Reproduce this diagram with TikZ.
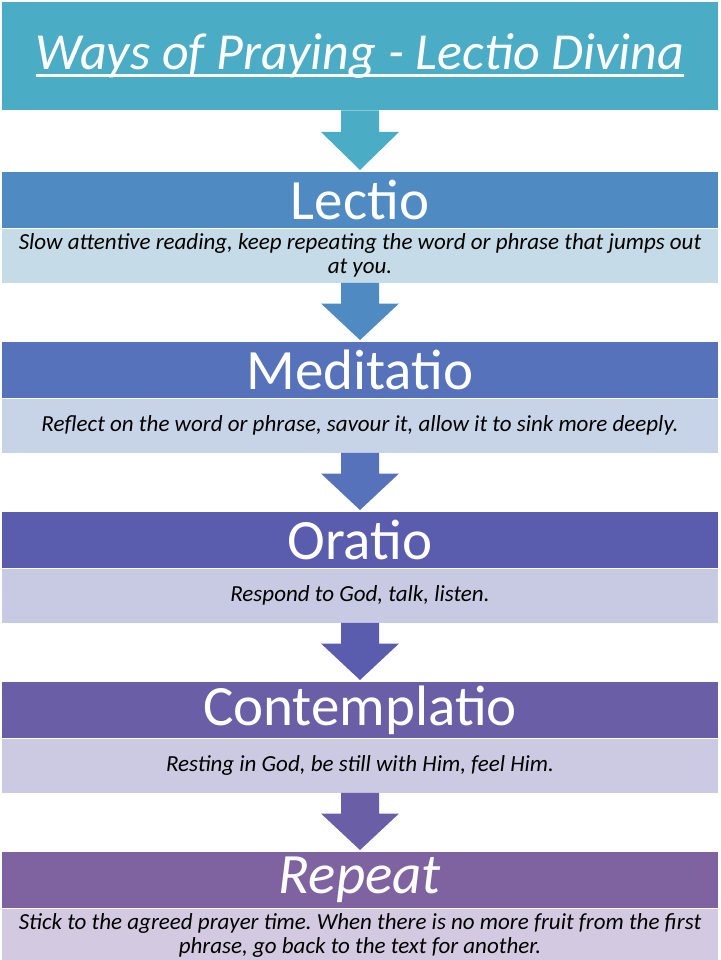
\documentclass[tikz,border=0pt]{standalone}
\usepackage{fontspec}
\setmainfont{Carlito}
\usetikzlibrary{calc,positioning}
\frenchspacing

\definecolor{hdtitle}{HTML}{4BACC6}
\definecolor{hdlectio}{HTML}{4F8BC2}
\definecolor{dslectio}{HTML}{C5DBE7}
\definecolor{hdmeditatio}{HTML}{5572BB}
\definecolor{dsmeditatio}{HTML}{C7D3E6}
\definecolor{hdoratio}{HTML}{5A5DAE}
\definecolor{dsoratio}{HTML}{C8CAE3}
\definecolor{hdcontemplatio}{HTML}{6A5FA7}
\definecolor{dscontemplatio}{HTML}{CCC9E2}
\definecolor{hdrepeat}{HTML}{7F63A1}
\definecolor{dsrepeat}{HTML}{D3CAE2}

\tikzset{
    band/.style={anchor=north, minimum width=716pt, inner sep=0pt, text=white},
    header/.style={band, minimum height=56pt, font=\fontsize{57}{58}\selectfont},
    detail/.style={band, minimum height=54pt, text=black, align=center,
        font=\itshape\fontsize{23}{23.5}\selectfont}
}

\begin{document}
\begin{tikzpicture}[x=1pt,y=-1pt]
        \useasboundingbox[fill=white] (0,0) rectangle (720,960);
        % title
            \node[band, fill=hdtitle, minimum height=108pt] (title) at (360,2) {};
            \node[inner sep=0pt, text=white, font=\itshape\fontsize{52}{56}\selectfont]
                (ttl) at (360,56) {Ways of Praying - Lectio Divina};
            \draw[white, line width=2.5pt] ([yshift=-6pt]ttl.base west) -- ([yshift=-6pt]ttl.base east);
        % steps
            \foreach \nm/\y/\hd/\ds in {
                lectio/172/Lectio/{Slow attentive reading, keep repeating the word or phrase that jumps out\\at you.},
                meditatio/342/Meditatio/{Reflect on the word or phrase, savour it, allow it to sink more deeply.},
                oratio/512/Oratio/{Respond to God, talk, listen.},
                contemplatio/682/Contemplatio/{Resting in God, be still with Him, feel Him.},
                repeat/852/\textit{Repeat}/{Stick to the agreed prayer time. When there is no more fruit from the first\\phrase, go back to the text for another.}}{
                \node[header, fill=hd\nm] (\nm) at (360,\y) {\hd};
                \node[detail, fill=ds\nm] (\nm-txt) at (\nm.south) {\ds};
            }
        % arrows
            \foreach \a/\b/\c in {title/lectio/hdtitle, lectio-txt/meditatio/hdlectio,
                meditatio-txt/oratio/hdmeditatio, oratio-txt/contemplatio/hdoratio,
                contemplatio-txt/repeat/hdcontemplatio}{
                \fill[\c] ($(\a.south)+(-19,0)$) -- ($(\a.south)+(19,0)$)
                    -- ($(\a.south)!.35!(\b.north)+(19,0)$) -- ($(\a.south)!.35!(\b.north)+(39,0)$)
                    -- ($(\b.north)+(0,-2)$)
                    -- ($(\a.south)!.35!(\b.north)+(-39,0)$) -- ($(\a.south)!.35!(\b.north)+(-19,0)$) -- cycle;
            }
        \end{tikzpicture}
\end{document}
